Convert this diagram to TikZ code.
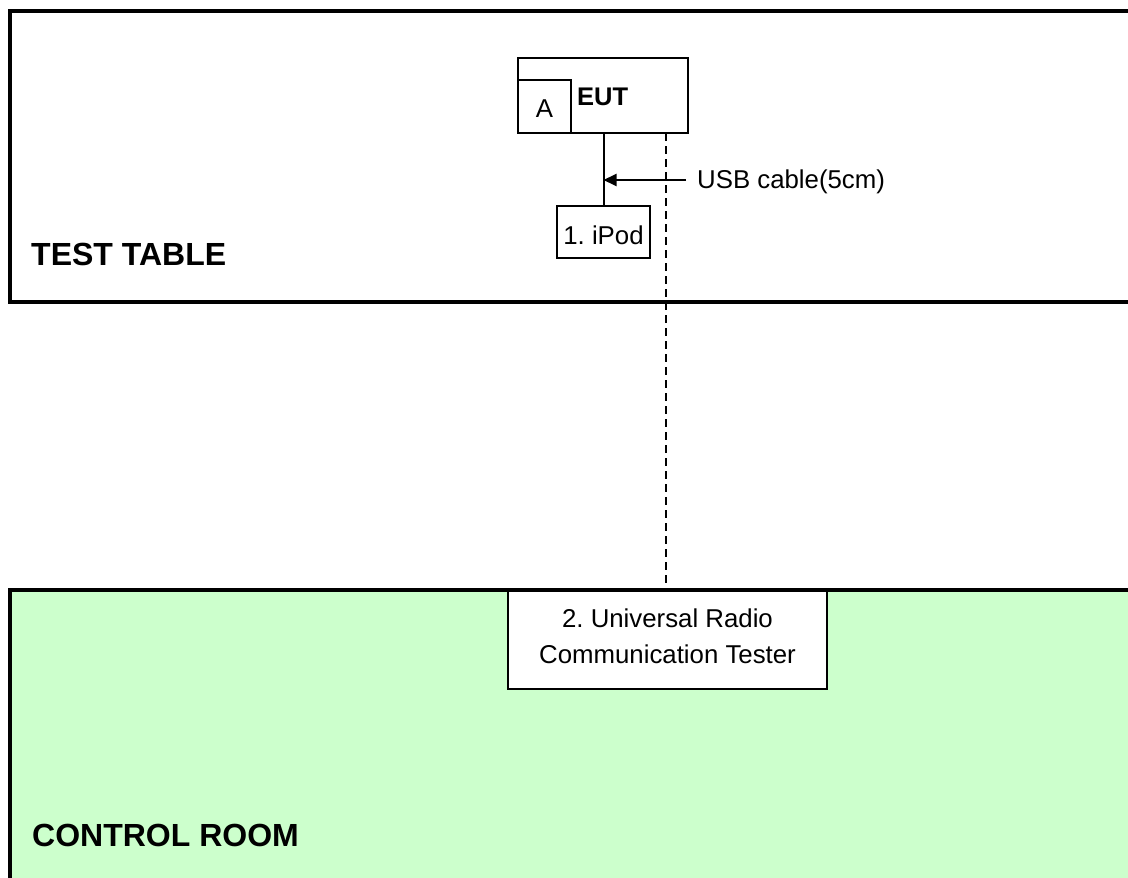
\documentclass[tikz,border=0pt]{standalone}
\usepackage{fontspec}
\setmainfont{Liberation Sans}
\frenchspacing
\usetikzlibrary{arrows.meta}
\definecolor{roomgreen}{RGB}{204,255,204}
\tikzset{
  room/.style={draw=black, line width=4.5pt},
  devbox/.style={draw=black, line width=2pt, fill=white, inner sep=0pt, outer sep=0pt},
  txt/.style={inner sep=0pt, font=\fontsize{25.8}{30}\selectfont},
  roomlabel/.style={inner sep=0pt, font=\fontsize{32}{36}\selectfont\bfseries, anchor=base west},
  cable/.style={draw=black, line width=2pt},
  dashcable/.style={draw=black, line width=2.3pt, dash pattern=on 8pt off 5pt},
}
\begin{document}
\begin{tikzpicture}[x=1pt,y=-1pt]
\useasboundingbox (0,0) rectangle (1128,878);
\clip (0,0) rectangle (1128,878);
% rooms
\draw[room, fill=white] (10,11) rectangle (1150,302);
\draw[room, fill=roomgreen] (10,590) rectangle (1150,900);
\node[roomlabel] (tt) at (31,265) {TEST TABLE};
\node[roomlabel] (cr) at (32,846) {CONTROL ROOM};
% devices
\node[devbox, minimum width=170pt, minimum height=75pt] (eut) at (603,95.5) {};
\node[devbox, minimum width=53pt, minimum height=53pt] (a) at (544.5,106.5) {};
\node[txt, anchor=base] (alabel) at (544.5,117) {A};
\node[txt, anchor=base west, font=\fontsize{25.5}{30}\selectfont\bfseries] (eutlabel) at (577,105) {EUT};
\node[devbox, minimum width=93pt, minimum height=52pt] (ipod) at (603.5,232) {};
\node[txt, anchor=base] (ipodlabel) at (603.5,244) {1. iPod};
% cables
\draw[cable] (ipod.north) -- (ipod.north |- eut.south);
\coordinate (dtop) at (666,133);
\coordinate (dbot) at (666,592);
\draw[dashcable] (dtop) -- (dbot);
\coordinate (usbstart) at (686,180);
\draw[cable, -{Triangle[length=13pt,width=12pt]}] (usbstart) -- (usbstart -| ipod.north);
\node[txt, anchor=base west] (usblabel) at (697,188) {USB cable(5cm)};
% tester
\node[devbox, minimum width=319pt, minimum height=98pt] (tester) at (667.5,640) {};
\node[txt, anchor=base] (t1) at (667.5,627) {2. Universal Radio};
\node[txt, anchor=base] (t2) at (667.5,663) {Communication Tester};
\end{tikzpicture}
\end{document}
